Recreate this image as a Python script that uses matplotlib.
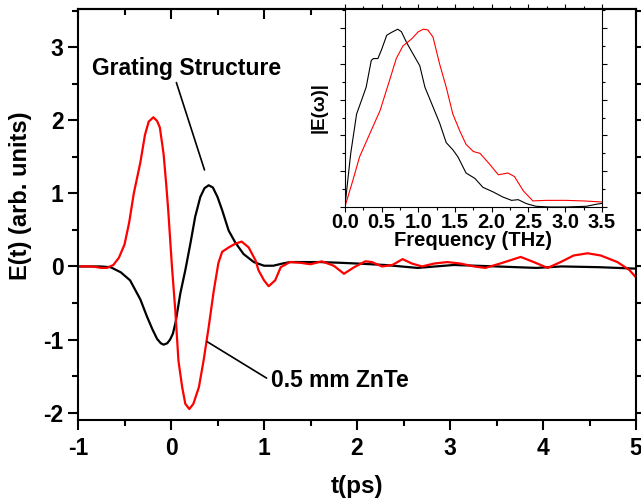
import numpy as np
import matplotlib
matplotlib.use('Agg')
import matplotlib.pyplot as plt
from matplotlib.ticker import MultipleLocator, NullFormatter

plt.rcParams['font.family'] = ['Liberation Sans', 'DejaVu Sans']
plt.rcParams['font.weight'] = 'bold'
plt.rcParams['axes.unicode_minus'] = False

# time-domain waveforms
t_grating = [-1.0, -0.9, -0.76, -0.65, -0.54, -0.44, -0.33, -0.26, -0.2, -0.15,
             -0.11, -0.08, -0.04, -0.01, 0.02, 0.05, 0.1, 0.154, 0.208, 0.26,
             0.315, 0.36, 0.405, 0.45, 0.5, 0.55, 0.62, 0.69, 0.78, 0.89,
             1.0, 1.1, 1.2, 1.28, 1.4, 1.6, 1.82, 2.0, 2.3, 2.65,
             3.04, 3.5, 3.93, 4.2, 4.6, 5.0]
e_grating = [0.0, 0.0, 0.0, -0.01, -0.08, -0.19, -0.45, -0.68, -0.86, -0.99,
             -1.05, -1.07, -1.05, -1.0, -0.92, -0.76, -0.37, -0.05, 0.31, 0.68,
             0.95, 1.07, 1.11, 1.08, 0.95, 0.77, 0.49, 0.33, 0.17, 0.06,
             0.01, 0.01, 0.04, 0.06, 0.06, 0.06, 0.05, 0.04, 0.02, -0.02,
             0.02, 0.0, -0.02, 0.0, -0.01, -0.03]

t_znte = [-1.0, -0.85, -0.75, -0.69, -0.62, -0.56, -0.5, -0.45, -0.4, -0.33,
          -0.28, -0.24, -0.19, -0.15, -0.12, -0.08, -0.05, -0.03, 0.01, 0.046,
          0.08, 0.12, 0.154, 0.197, 0.24, 0.30, 0.35, 0.405, 0.46, 0.51,
          0.55, 0.62, 0.69, 0.76, 0.835, 0.91, 0.94, 1.0, 1.05, 1.12,
          1.18, 1.28, 1.39, 1.5, 1.62, 1.75, 1.86, 1.97, 2.09, 2.16,
          2.27, 2.38, 2.49, 2.59, 2.7, 2.83, 2.97, 3.11, 3.26, 3.38,
          3.54, 3.76, 3.9, 4.05, 4.19, 4.33, 4.48, 4.62, 4.8, 4.93, 5.0]
e_znte = [0.0, 0.0, -0.02, -0.02, 0.02, 0.12, 0.3, 0.6, 1.0, 1.42,
          1.8, 1.98, 2.04, 1.99, 1.9, 1.54, 1.1, 0.77, 0.0, -0.6,
          -1.29, -1.65, -1.88, -1.95, -1.88, -1.65, -1.29, -0.83, -0.33, 0.05,
          0.2, 0.26, 0.31, 0.34, 0.26, 0.08, -0.05, -0.19, -0.27, -0.19,
          -0.01, 0.06, 0.05, 0.03, 0.07, 0.01, -0.1, -0.01, 0.07, 0.06,
          0.0, 0.02, 0.1, 0.04, 0.0, 0.04, 0.06, 0.04, 0.0, -0.02,
          0.04, 0.13, 0.06, -0.02, 0.06, 0.15, 0.18, 0.15, 0.06, -0.05, -0.15]

# spectra (inset), normalised
f_grating = [0.0, 0.08, 0.16, 0.23, 0.29, 0.36, 0.39, 0.45, 0.5, 0.57, 0.63, 0.72,
             0.77, 0.84, 0.95, 1.02, 1.09, 1.2, 1.29, 1.38, 1.47, 1.54, 1.65,
             1.77, 1.88, 2.02, 2.15, 2.27, 2.36, 2.47, 2.6, 2.79, 3.01, 3.29, 3.42, 3.5]
s_grating = [0.0, 0.3, 0.52, 0.6, 0.67, 0.82, 0.83, 0.83, 0.88, 0.96, 0.975, 0.994,
             0.98, 0.92, 0.84, 0.79, 0.67, 0.56, 0.47, 0.36, 0.32, 0.28, 0.19,
             0.16, 0.11, 0.084, 0.056, 0.037, 0.041, 0.019, 0.004, 0.0, 0.0, 0.004, 0.015, 0.02]

f_znte = [0.0, 0.11, 0.2, 0.34, 0.48, 0.61, 0.7, 0.79, 0.91, 1.0, 1.07, 1.13,
          1.2, 1.29, 1.38, 1.47, 1.56, 1.65, 1.75, 1.84, 1.97, 2.09, 2.22,
          2.31, 2.43, 2.56, 2.74, 3.01, 3.24, 3.5]
s_znte = [0.0, 0.15, 0.28, 0.41, 0.54, 0.71, 0.83, 0.9, 0.94, 0.98, 0.994, 0.99,
          0.95, 0.8, 0.67, 0.52, 0.43, 0.35, 0.31, 0.3, 0.24, 0.18, 0.19,
          0.17, 0.09, 0.034, 0.037, 0.037, 0.034, 0.028]

fig = plt.figure(figsize=(6.41, 5.03), dpi=100)
ax = fig.add_axes([0.1217, 0.165, 0.8705, 0.817])

ax.plot(t_grating, e_grating, color='black', lw=1.6)
ax.plot(t_znte, e_znte, color='red', lw=1.6)

ax.set_xlim(-1, 5)
ax.set_ylim(-2.1, 3.52)
ax.xaxis.set_major_locator(MultipleLocator(1))
ax.xaxis.set_minor_locator(MultipleLocator(0.5))
ax.yaxis.set_major_locator(MultipleLocator(1))
ax.yaxis.set_minor_locator(MultipleLocator(0.5))
ax.tick_params(which='both', direction='out', width=1.5, labelsize=16.5,
               right=True, top=False)
ax.tick_params(axis='x', pad=5)
ax.tick_params(which='major', length=7)
ax.tick_params(which='minor', length=4)
for sp in ax.spines.values():
    sp.set_linewidth(1.5)

top = ax.secondary_xaxis('top')
top.xaxis.set_major_locator(MultipleLocator(1))
top.xaxis.set_minor_locator(MultipleLocator(0.5))
top.tick_params(which='both', direction='in', width=1.5, labeltop=False)
top.tick_params(which='major', length=7)
top.tick_params(which='minor', length=4)
top.xaxis.set_major_formatter(NullFormatter())
top.spines['top'].set_linewidth(1.5)

ax.set_xlabel('t(ps)', fontsize=17.5, fontweight='bold', labelpad=11)
ax.set_ylabel('E(t) (arb. units)', fontsize=17, fontweight='bold')
ax.yaxis.set_label_coords(-0.082, 0.545)

ax.annotate('Grating Structure', xy=(0.36, 1.32), xytext=(0.17, 2.71),
            fontsize=16.5, fontweight='bold', ha='center', va='center',
            arrowprops=dict(arrowstyle='-', color='black', lw=1.2,
                            shrinkA=0, shrinkB=0, relpos=(0.44, 0.0)))
ax.annotate('0.5 mm ZnTe', xy=(0.39, -1.03), xytext=(1.07, -1.56),
            fontsize=16.5, fontweight='bold', ha='left', va='center',
            arrowprops=dict(arrowstyle='-', color='black', lw=1.2,
                            shrinkA=1, shrinkB=0, relpos=(0.0, 0.5)))

# inset spectrum
ins = fig.add_axes([0.538, 0.5885, 0.401, 0.3936])
ins.set_facecolor('white')
ins.plot(f_grating, s_grating, color='black', lw=0.8)
ins.plot(f_znte, s_znte, color='red', lw=0.8)
ins.set_xlim(0, 3.5)
ins.set_ylim(0, 1.107)
ins.xaxis.set_major_locator(MultipleLocator(0.5))
ins.xaxis.set_minor_locator(MultipleLocator(0.25))
ins.yaxis.set_major_locator(MultipleLocator(0.2))
ins.yaxis.set_minor_locator(MultipleLocator(0.1))
ins.xaxis.set_major_formatter(plt.FuncFormatter(lambda v, p: f'{v:.1f}'))
ins.yaxis.set_major_formatter(NullFormatter())
ins.tick_params(which='both', direction='out', width=0.8, labelsize=14.5, pad=1,
                top=True, right=True)
ins.tick_params(which='major', length=3.5)
ins.tick_params(which='minor', length=2)
for sp in ins.spines.values():
    sp.set_linewidth(0.8)
ins.set_xlabel('Frequency (THz)', fontsize=14.5, fontweight='bold', labelpad=-1)
ins.set_ylabel('|E(\u03c9)|', fontsize=13.5, fontweight='bold', labelpad=8)

fig.savefig('out.png', dpi=100)
